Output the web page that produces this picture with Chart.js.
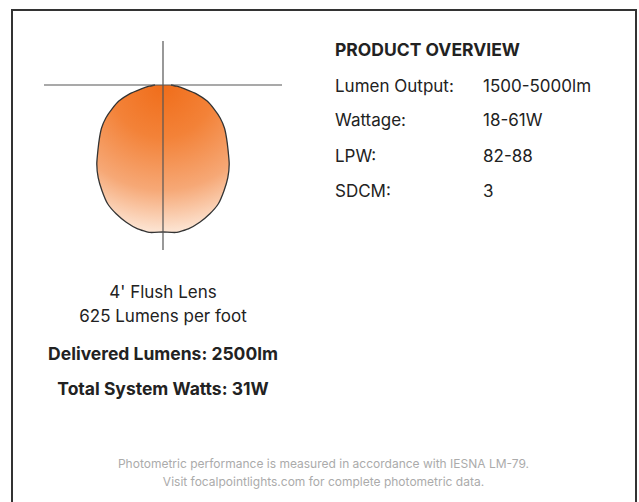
<!DOCTYPE html>
<html>
<head>
<meta charset="utf-8">
<script src="https://cdn.jsdelivr.net/npm/chart.js@4"></script>
<style>
  html, body { margin: 0; padding: 0; background: #fff; }
  body { width: 639px; height: 502px; position: relative; overflow: hidden; font-family: Inter, "Noto Sans", sans-serif; color: #222; }
  .frame { position: absolute; left: 11px; top: 9px; width: 622px; height: 520px; border: 2px solid #333; }
  #plot { position: absolute; left: 44px; top: 41px; }
  .t { position: absolute; line-height: 1; white-space: nowrap; }
  .title { left: 335px; top: 41px; font-size: 17.5px; font-weight: 700; }
  .lbl { left: 335px; font-size: 17px; }
  .val { left: 483px; font-size: 17px; }
  .ctr { left: 24px; width: 278px; text-align: center; font-size: 17px; }
  .b { font-weight: 700; font-size: 17.5px; }
  .foot { left: 12px; width: 623px; text-align: center; font-size: 12px; color: #ababab; }
</style>
</head>
<body>
<div class="frame"></div>
<canvas id="plot" width="238" height="209"></canvas>

<div class="t title">PRODUCT OVERVIEW</div>
<div class="t lbl" style="top:78px">Lumen Output:</div>
<div class="t val" style="top:78px">1500-5000lm</div>
<div class="t lbl" style="top:112px">Wattage:</div>
<div class="t val" style="top:112px">18-61W</div>
<div class="t lbl" style="top:148px">LPW:</div>
<div class="t val" style="top:148px">82-88</div>
<div class="t lbl" style="top:183px">SDCM:</div>
<div class="t val" style="top:183px">3</div>

<div class="t ctr" style="top:284px">4' Flush Lens</div>
<div class="t ctr" style="top:308px">625 Lumens per foot</div>
<div class="t ctr b" style="top:345px">Delivered Lumens: 2500lm</div>
<div class="t ctr b" style="top:380px">Total System Watts: 31W</div>

<div class="t foot" style="top:458px">Photometric performance is measured in accordance with IESNA LM-79.</div>
<div class="t foot" style="top:476px">Visit focalpointlights.com for complete photometric data.</div>

<script>
// vertical angles (deg from nadir) and candela values, mirrored for both sides
const angles = [0, 5, 10, 15, 20, 25, 30, 35, 40, 45, 50, 55, 60, 65, 70, 75, 80, 85, 90];
const candela = [735, 740, 730, 710, 685, 655, 610, 565, 515, 460, 415, 375, 330, 280, 235, 175, 110, 70, 40];

// plot window in candela units
const xRange = [-595, 595];
const yRange = [-825, 220];

const pts = [];
for (let i = angles.length - 1; i >= 0; i--) {
    const a = angles[i] * Math.PI / 180;
    pts.push({ x: -candela[i] * Math.sin(a), y: -candela[i] * Math.cos(a) });
}
for (let i = 1; i < angles.length; i++) {
    const a = angles[i] * Math.PI / 180;
    pts.push({ x: candela[i] * Math.sin(a), y: -candela[i] * Math.cos(a) });
}

const crosshair = {
    id: 'crosshair',
    afterDatasetsDraw(chart) {
        const ctx = chart.ctx, area = chart.chartArea;
        const x0 = chart.scales.x.getPixelForValue(0);
        const y0 = chart.scales.y.getPixelForValue(0);
        ctx.save();
        ctx.strokeStyle = '#555';
        ctx.lineWidth = 1.2;
        ctx.beginPath();
        ctx.moveTo(x0, area.top);
        ctx.lineTo(x0, area.bottom);
        ctx.moveTo(area.left, y0);
        ctx.lineTo(area.right, y0);
        ctx.stroke();
        ctx.restore();
    }
};

function glow(context) {
    const chart = context.chart;
    if (!chart.chartArea) return '#f5955a';
    const x0 = chart.scales.x.getPixelForValue(0);
    const y0 = chart.scales.y.getPixelForValue(0);
    const g = chart.ctx.createRadialGradient(x0, y0, 0, x0, y0, 150);
    g.addColorStop(0, '#f06d1a');
    g.addColorStop(0.35, '#f38238');
    g.addColorStop(0.7, '#f6a876');
    g.addColorStop(1, '#fde9da');
    return g;
}

new Chart(document.getElementById('plot').getContext('2d'), {
    type: 'scatter',
    data: {
        datasets: [{
            data: pts,
            showLine: true,
            fill: 'shape',
            tension: 0.15,
            borderColor: '#333',
            borderWidth: 1.3,
            pointRadius: 0,
            backgroundColor: glow
        }]
    },
    options: {
        responsive: false,
        animation: false,
        layout: { padding: 0 },
        plugins: { legend: { display: false }, tooltip: { enabled: false } },
        scales: {
            x: { display: false, min: xRange[0], max: xRange[1] },
            y: { display: false, min: yRange[0], max: yRange[1] }
        }
    },
    plugins: [crosshair]
});
</script>
</body>
</html>
